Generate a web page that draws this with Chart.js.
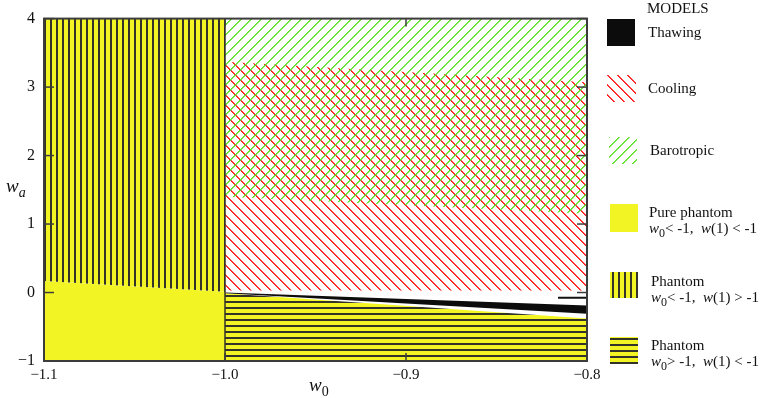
<!DOCTYPE html>
<html>
<head>
<meta charset="utf-8">
<script src="https://cdn.jsdelivr.net/npm/chart.js@4.4.0/dist/chart.umd.min.js"></script>
<style>
  html, body { margin: 0; padding: 0; background: #fff; }
  #wrap { position: relative; width: 761px; height: 398px; font-family: "Liberation Serif", "Times New Roman", serif; color: #111; }
  #chart { position: absolute; left: 0; top: 0; }
  .lab { position: absolute; white-space: nowrap; font-size: 15px; line-height: 16px; }
  .lab sub { font-size: 12px; vertical-align: -4px; line-height: 0; }
  .sw { position: absolute; }
  .ttl { position: absolute; font-style: italic; font-size: 19px; line-height: 20px; white-space: nowrap; }
  .ttl sub { font-size: 14px; vertical-align: -5px; line-height: 0; }
</style>
</head>
<body>
<div id="wrap">
  <canvas id="chart" width="761" height="398"></canvas>

  <div class="ttl" style="left:6px; top:176px;">w<sub>a</sub></div>
  <div class="ttl" style="left:309px; top:375px;">w<sub style="font-style:normal">0</sub></div>

  <div class="lab" style="left:647px; top:0px;">MODELS</div>
  <canvas class="sw" id="swThawing" width="28" height="27" style="left:607px; top:19px;"></canvas>
  <div class="lab" style="left:648px; top:24px;">Thawing</div>
  <canvas class="sw" id="swCooling" width="29" height="27" style="left:607px; top:75px;"></canvas>
  <div class="lab" style="left:648px; top:80px;">Cooling</div>
  <canvas class="sw" id="swBaro" width="28" height="27" style="left:609px; top:137px;"></canvas>
  <div class="lab" style="left:650px; top:142px;">Barotropic</div>
  <canvas class="sw" id="swPure" width="28" height="28" style="left:610px; top:204px;"></canvas>
  <div class="lab" style="left:649px; top:204px;">Pure phantom</div>
  <div class="lab" style="left:649px; top:220px;"><i>w</i><sub>0</sub>&lt; -1,&nbsp; <i>w</i>(1) &lt; -1</div>
  <canvas class="sw" id="swPhV" width="28" height="26" style="left:610px; top:272px;"></canvas>
  <div class="lab" style="left:651px; top:273px;">Phantom</div>
  <div class="lab" style="left:651px; top:289px;"><i>w</i><sub>0</sub>&lt; -1,&nbsp; <i>w</i>(1) &gt; -1</div>
  <canvas class="sw" id="swPhH" width="28" height="27" style="left:610px; top:337px;"></canvas>
  <div class="lab" style="left:651px; top:337px;">Phantom</div>
  <div class="lab" style="left:651px; top:353px;"><i>w</i><sub>0</sub>&gt; -1,&nbsp; <i>w</i>(1) &lt; -1</div>
</div>
<script>
// axis ticks
const xTicks = [-1.1, -1.0, -0.9, -0.8];
const xTickLabels = ['\u22121.1', '\u22121.0', '\u22120.9', '\u22120.8'];
const yTicks = [4, 3, 2, 1, 0, -1];
const yTickLabels = ['4', '3', '2', '1', '0', '\u22121'];

// region boundaries as [w0, wa] points
const phantomVertEdge = [[-1.1, 0.17], [-1.0, 0.01]];   // vertical hatch above, pure phantom below
const barotropicEdge = [[-1.0, 1.40], [-0.8, 1.15]];    // barotropic above
const coolingTop = [[-1.0, 3.37], [-0.8, 3.07]];
const coolingBottom = [[-1.0, 0.03], [-0.8, 0.03]];
const thawingTop = [[-1.0, 0.0], [-0.8, -0.19]];
const thawingBottom = [[-1.0, -0.01], [-0.8, -0.31]];
const phantomHorizEdge = [[-1.0, -0.01], [-0.8, -0.38]]; // horizontal hatch below
const thawingStub = [[-0.816, -0.075], [-0.8, -0.075]];
const divider = [[-1.0, -1], [-1.0, 4]];

const YELLOW = '#f2f523';
const HATCH_DARK = '#33332a';
const RED = '#ff1a1a';
const GREEN = '#5fe02a';

function pattern(w, h, draw) {
    var c = document.createElement('canvas');
    c.width = w; c.height = h;
    draw(c.getContext('2d'), w, h);
    return c;
}

// crisp pixel staircase diagonals, like the scanned hatching
function diag(color, back) {
    return pattern(10, 10, function (g, w, h) {
        g.fillStyle = color;
        for (var i = 0; i < 10; i++) {
            var x = back ? i : 9 - i;
            g.globalAlpha = 1;
            g.fillRect(x, i, 1, 1);
            g.globalAlpha = 0.8;
            g.fillRect((x + 1) % 10, i, 1, 1);
        }
    });
}

const vertTile = pattern(6, 6, function (g) {
    g.fillStyle = YELLOW; g.fillRect(0, 0, 6, 6);
    g.fillStyle = HATCH_DARK; g.fillRect(2, 0, 2, 6);
});
const horizTile = pattern(6, 6, function (g) {
    g.fillStyle = YELLOW; g.fillRect(0, 0, 6, 6);
    g.fillStyle = HATCH_DARK; g.fillRect(0, 1, 6, 2);
});
const redTile = diag(RED, true);
const greenTile = diag(GREEN, false);

const ctx = document.getElementById('chart').getContext('2d');
const vertPat = ctx.createPattern(vertTile, 'repeat');
const horizPat = ctx.createPattern(horizTile, 'repeat');
const redPat = ctx.createPattern(redTile, 'repeat');
const greenPat = ctx.createPattern(greenTile, 'repeat');

const pts = arr => arr.map(p => ({ x: p[0], y: p[1] }));

function area(data, fill, bg) {
    return { data: pts(data), fill: fill, backgroundColor: bg, borderWidth: 0, pointRadius: 0 };
}

// inner ticks and plot frame
const frame = {
    id: 'frame',
    afterDatasetsDraw(chart) {
        const c = chart.ctx, a = chart.chartArea, x = chart.scales.x, y = chart.scales.y;
        c.save();
        c.strokeStyle = '#3c3c3c';
        c.lineWidth = 1.5;
        function seg(x1, y1, x2, y2) { c.beginPath(); c.moveTo(x1, y1); c.lineTo(x2, y2); c.stroke(); }
        yTicks.forEach(v => {
            const py = y.getPixelForValue(v);
            seg(a.left, py, a.left + 10, py);
            seg(a.right - 10, py, a.right, py);
        });
        xTicks.forEach(v => {
            const px = x.getPixelForValue(v);
            seg(px, a.bottom, px, a.bottom - 8);
            seg(px, a.top, px, a.top + 8);
        });
        c.lineWidth = 2;
        c.strokeRect(a.left, a.top, a.right - a.left, a.bottom - a.top);
        c.restore();
    }
};

new Chart(ctx, {
    type: 'line',
    data: {
        datasets: [
            { data: pts(thawingStub), borderColor: '#111', borderWidth: 2, pointRadius: 0, fill: false },
            { data: pts(divider), borderColor: HATCH_DARK, borderWidth: 1.5, pointRadius: 0, fill: false },
            area(thawingTop, '+1', '#0c0c0c'),
            area(thawingBottom, false, 'transparent'),
            area(phantomHorizEdge, 'start', horizPat),
            area(barotropicEdge, 'end', greenPat),
            area(coolingTop, '+1', redPat),
            area(coolingBottom, false, 'transparent'),
            area(phantomVertEdge, 'end', vertPat),
            area(phantomVertEdge, 'start', YELLOW)
        ]
    },
    options: {
        responsive: false,
        animation: false,
        events: [],
        layout: { padding: { top: 18, right: 174, left: 0, bottom: 0 } },
        plugins: { legend: { display: false }, tooltip: { enabled: false } },
        elements: { line: { tension: 0 } },
        scales: {
            x: {
                type: 'linear', min: -1.1, max: -0.8,
                grid: { display: false, drawTicks: false },
                border: { display: false },
                afterBuildTicks: s => { s.ticks = xTicks.map(v => ({ value: v })); },
                afterFit: s => { s.height = 37; },
                ticks: {
                    autoSkip: false, maxRotation: 0, padding: 5, color: '#111',
                    font: { family: 'Liberation Serif', size: 15 },
                    callback: (v, i) => xTickLabels[i]
                }
            },
            y: {
                type: 'linear', min: -1, max: 4,
                grid: { display: false, drawTicks: false },
                border: { display: false },
                afterBuildTicks: s => { s.ticks = yTicks.map(v => ({ value: v })); },
                afterFit: s => { s.width = 44; },
                ticks: {
                    autoSkip: false, padding: 9, color: '#111',
                    font: { family: 'Liberation Serif', size: 16 },
                    callback: (v, i) => yTickLabels[i]
                }
            }
        }
    },
    plugins: [frame]
});

// legend swatches
function swatch(id, fill) {
    const el = document.getElementById(id);
    const g = el.getContext('2d');
    g.fillStyle = typeof fill === 'string' ? fill : g.createPattern(fill, 'repeat');
    g.fillRect(0, 0, el.width, el.height);
}
swatch('swThawing', '#0c0c0c');
swatch('swCooling', redTile);
swatch('swBaro', greenTile);
swatch('swPure', YELLOW);
swatch('swPhV', vertTile);
swatch('swPhH', horizTile);
</script>
</body>
</html>
